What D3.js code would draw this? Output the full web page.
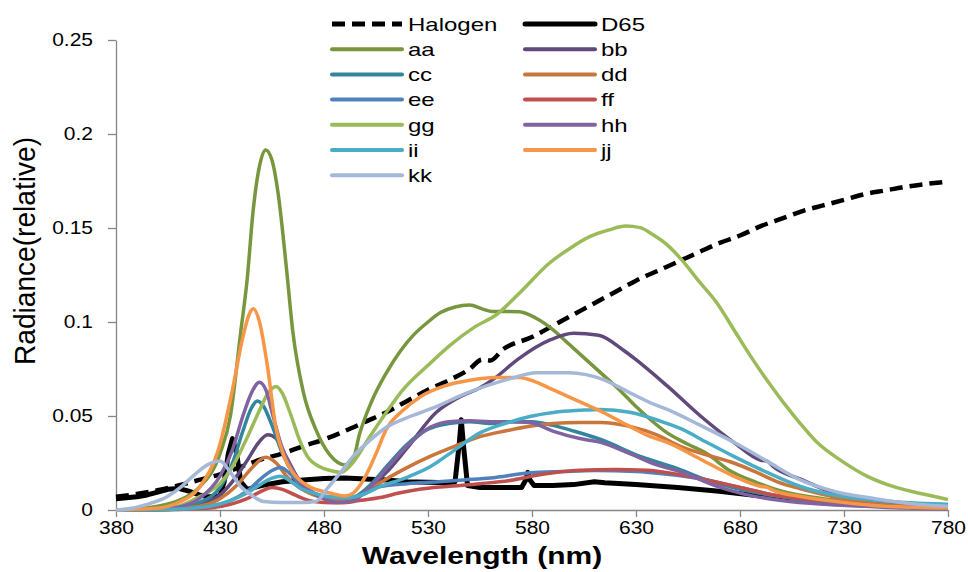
<!DOCTYPE html>
<html><head><meta charset="utf-8">
<script src="https://cdn.jsdelivr.net/npm/d3@7"></script>
<style>
html,body{margin:0;padding:0;background:#fff;}
text{font-family:"Liberation Sans",Arial,sans-serif;fill:#000;}
.sq{transform-box:fill-box;transform-origin:50% 50%;transform:scaleY(0.84);}
.sq2{transform-box:fill-box;transform-origin:50% 50%;transform:scaleY(0.8);}
</style></head>
<body>
<svg id="chart" width="968" height="572"></svg>
<script>
// ---------- data ----------
const wlTicks = [380,430,480,530,580,630,680,730,780];
const radTicks = [0,0.05,0.1,0.15,0.2,0.25];
const radTickLabels = ["0","0.05","0.1","0.15","0.2","0.25"];
const xTitle = "Wavelength (nm)";
const yTitle = "Radiance(relative)";
const seriesNames = ["Halogen","D65","aa","bb","cc","dd","ee","ff","gg","hh","ii","jj","kk"];

const halogenData = [[380,.0070],[390,.0085],[400,.0105],[410,.013],[420,.016],[430,.019],[440,.023],[450,.027],[460,.030],[470,.034],[480,.0375],[490,.042],[500,.047],[510,.052],[520,.058],[530,.064],[540,.069],[550,.075],[556,.080],[560,.0795],[566,.0854],[580,.092],[590,.098],[600,.104],[610,.110],[620,.116],[630,.122],[640,.127],[650,.132],[660,.137],[670,.142],[680,.146],[690,.151],[700,.155],[710,.159],[720,.162],[730,.165],[740,.168],[750,.170],[760,.172],[770,.1735],[780,.1747]];
const d65Data = [[380,.006],[385,.0065],[390,.007],[395,.008],[400,.0095],[405,.011],[410,.0115],[415,.010],[420,.008],[425,.007],[430,.0075],[432,.015],[434,.030],[436,.038],[438,.030],[440,.015],[443,.011],[450,.013],[460,.015],[470,.016],[480,.0167],[490,.017],[500,.0165],[510,.016],[520,.015],[530,.0148],[540,.0145],[543,.015],[545,.035],[546,.048],[547,.035],[549,.013],[555,.012],[565,.012],[575,.012],[577,.016],[578,.020],[579,.016],[581,.013],[590,.013],[600,.0135],[610,.015],[615,.0145],[630,.0135],[650,.012],[670,.010],[690,.0075],[710,.006],[730,.004],[750,.003],[770,.002],[780,.0015]];
const aaData = [[380,0],[390,.0005],[400,.002],[410,.005],[420,.012],[430,.03],[435,.05],[440,.095],[443,.122],[446,.160],[449,.183],[452,.1915],[455,.186],[458,.168],[462,.128],[465,.095],[470,.063],[476,.043],[483,.029],[490,.024],[494,.027],[497,.040],[503,.058],[510,.073],[517,.085],[523,.093],[530,.100],[536,.105],[543,.108],[550,.109],[556,.107],[561,.1056],[568,.1056],[574,.1055],[582,.102],[590,.096],[598,.088],[606,.080],[614,.072],[622,.064],[630,.055],[637,.048],[645,.041],[655,.035],[664,.030],[675,.021],[688,.0146],[700,.010],[720,.006],[740,.004],[760,.002],[780,.0015]];
const bbData = [[380,0],[400,.0005],[410,.001],[420,.003],[430,.008],[438,.018],[444,.028],[448,.035],[453,.040],[457,.038],[462,.028],[468,.016],[475,.009],[482,.006],[490,.005],[500,.010],[510,.020],[520,.033],[534,.052],[545,.060],[555,.065],[562,.070],[573,.080],[589,.0906],[600,.094],[612,.093],[624,.085],[630,.080],[645,.066],[661,.050],[677,.036],[690,.0265],[693,.026],[696,.023],[710,.016],[725,.009],[740,.006],[760,.003],[780,.0015]];
const ccData = [[380,0],[400,.0005],[410,.0015],[420,.004],[430,.012],[436,.025],[441,.042],[445,.054],[448,.058],[451,.055],[455,.045],[460,.030],[466,.018],[472,.011],[480,.007],[488,.005],[495,.007],[502,.013],[510,.023],[520,.035],[530,.043],[540,.046],[550,.047],[560,.046],[570,.047],[580,.047],[590,.045],[600,.042],[613,.0375],[632,.0285],[650,.022],[664,.016],[680,.011],[700,.007],[720,.004],[740,.0025],[760,.0015],[780,.001]];
const ddData = [[380,0],[400,0],[420,.002],[430,.006],[438,.013],[445,.022],[452,.028],[457,.025],[462,.018],[468,.012],[475,.008],[482,.006],[490,.0055],[498,.008],[507,.0145],[519,.022],[531,.0285],[543,.034],[555,.039],[567,.042],[579,.0445],[590,.046],[603,.0466],[613,.0466],[627,.0445],[640,.040],[651,.034],[665,.029],[677,.025],[688,.020],[698,.015],[710,.011],[725,.007],[740,.004],[760,.002],[780,.001]];
const eeData = [[380,0],[410,.0005],[425,.002],[435,.005],[443,.010],[450,.017],[455,.021],[459,.0226],[463,.020],[468,.014],[475,.009],[482,.007],[490,.0065],[498,.008],[507,.0125],[520,.014],[535,.015],[547,.016],[560,.017],[579,.0198],[595,.0205],[610,.021],[630,.0205],[645,.019],[664,.016],[680,.012],[696,.008],[710,.006],[730,.004],[750,.002],[780,.001]];
const ffData = [[380,0],[410,.0003],[425,.001],[435,.003],[443,.006],[450,.010],[455,.012],[460,.011],[466,.008],[473,.005],[480,.004],[488,.0038],[497,.005],[507,.0066],[516,.009],[526,.011],[539,.0125],[555,.014],[571,.016],[585,.019],[603,.0212],[620,.0215],[635,.0212],[650,.019],[664,.016],[680,.012],[696,.008],[710,.006],[730,.004],[750,.002],[780,.001]];
const ggData = [[380,0],[400,.0005],[410,.002],[420,.007],[430,.014],[436,.023],[442,.036],[449,.053],[453,.062],[457,.0657],[460,.062],[463.6,.052],[468,.038],[472,.0285],[478,.023],[483,.021],[488,.020],[493,.024],[502,.039],[510,.052],[518,.064],[530,.077],[541,.088],[552,.097],[563,.104],[575,.1165],[588,.131],[598,.139],[608,.1455],[617,.149],[625,.151],[632,.1502],[638,.1465],[645,.141],[652,.133],[660,.122],[669,.110],[677,.096],[685,.082],[693,.069],[701,.057],[709,.046],[717,.036],[729,.026],[741,.018],[755,.012],[768,.0085],[780,.0056]];
const hhData = [[380,0],[400,.0005],[410,.0015],[420,.006],[430,.018],[436,.032],[441,.050],[445,.062],[449,.068],[452,.064],[455.5,.050],[459,.036],[464,.023],[470,.013],[478,.007],[486,.004],[494,.005],[502,.012],[510,.022],[520,.034],[531,.044],[540,.047],[550,.0475],[560,.047],[570,.047],[579,.0465],[590,.042],[603,.038],[613,.036],[627,.030],[640,.024],[651,.0205],[668,.013],[680,.009],[700,.005],[720,.003],[740,.002],[760,.001],[780,.0005]];
const iiData = [[380,0],[410,.0005],[425,.002],[435,.005],[443,.009],[450,.014],[455,.017],[459,.018],[463,.016],[468,.012],[475,.009],[482,.007],[490,.0065],[498,.008],[507,.0125],[519,.017],[531,.023],[543,.032],[555,.041],[567,.046],[579,.0497],[591,.052],[603,.053],[613,.0535],[627,.052],[645,.046],[651,.0435],[664,.036],[677,.0285],[693,.020],[709,.0125],[725,.008],[741,.0056],[760,.004],[780,.003]];
const jjData = [[380,0],[400,.001],[410,.004],[420,.012],[430,.035],[436,.064],[441,.092],[444,.104],[446,.107],[449,.100],[452.6,.078],[457,.043],[461,.028],[465,.020],[472,.013],[483,.009],[490,.0075],[494,.009],[500,.018],[505,.030],[510,.043],[518,.053],[526,.060],[538,.066],[550,.069],[562,.0705],[574,.0705],[582,.068],[590,.064],[602,.058],[614,.052],[626,.045],[637,.039],[645,.036],[661,.027],[677,.018],[690,.0125],[693,.012],[696,.0105],[710,.007],[730,.004],[750,.002],[780,.001]];
const kkData = [[380,0],[385,.0005],[395,.003],[404.5,.007],[411,.012],[417,.018],[424,.024],[430,.026],[435,.020],[440,.0125],[445,.008],[451,.0045],[460,.004],[470,.004],[476,.0045],[482,.012],[488,.020],[494,.0285],[502,.037],[510,.044],[522,.050],[534,.055],[546,.061],[558,.066],[570,.070],[582,.073],[598,.073],[606,.072],[614,.0695],[626,.063],[637,.057],[645,.0535],[661,.045],[677,.036],[693,.026],[709,.016],[725,.010],[745,.006],[765,.003],[780,.002]];

const seriesValues = [halogenData,d65Data,aaData,bbData,ccData,ddData,eeData,ffData,ggData,hhData,iiData,jjData,kkData];

// ---------- styles ----------
const seriesColors = ["#000000","#000000","#77963D","#604A7B","#31859C","#C8763A","#4F81BD","#C0504D","#9BBB59","#8064A2","#4BACC6","#F79646","#A5B8D8"];
const seriesWidths = [4.5,5,3.5,3.5,3.5,3.5,3.5,3.5,3.5,3.5,3.5,3.5,3.5];
const seriesDash = ["13,7",null,null,null,null,null,null,null,null,null,null,null,null];

const svg = d3.select("#chart");
const x = d3.scaleLinear().domain([380,780]).range([116,948]);
const y = d3.scaleLinear().domain([0,0.25]).range([510,40]);
const axisColor = "#868686";

// x axis
const gx = svg.append("g").attr("transform",`translate(0,${y(0)})`)
  .call(d3.axisBottom(x).tickValues(wlTicks).tickFormat(d3.format("d")).tickSize(7).tickPadding(3).tickSizeOuter(0));
gx.select(".domain").attr("stroke",axisColor).attr("stroke-width",1.3);
gx.selectAll(".tick line").attr("stroke",axisColor).attr("stroke-width",1.3);
gx.selectAll(".tick text").attr("font-size",21).attr("font-family","Liberation Sans, Arial, sans-serif").attr("fill","#000").attr("class","sq");

// y axis
const gy = svg.append("g").attr("transform",`translate(${x(380)},0)`)
  .call(d3.axisLeft(y).tickValues(radTicks).tickFormat((d,i)=>radTickLabels[i]).tickSize(8).tickPadding(15).tickSizeOuter(0));
gy.select(".domain").attr("stroke",axisColor).attr("stroke-width",1.3);
gy.selectAll(".tick line").attr("stroke",axisColor).attr("stroke-width",1.3);
gy.selectAll(".tick text").attr("font-size",21).attr("font-family","Liberation Sans, Arial, sans-serif").attr("fill","#000").attr("class","sq");

// lines
const smooth = d3.line().x(d=>x(d[0])).y(d=>y(d[1])).curve(d3.curveMonotoneX);
const straight = d3.line().x(d=>x(d[0])).y(d=>y(d[1]));
seriesValues.forEach((vals,i)=>{
  svg.append("path").datum(vals)
    .attr("d", i===1 ? straight : smooth)
    .attr("fill","none")
    .attr("stroke",seriesColors[i])
    .attr("stroke-width",seriesWidths[i])
    .attr("stroke-linejoin","round")
    .attr("stroke-dasharray",seriesDash[i]);
});

// legend
const legX = [332,525], legY0 = 24, legDY = 25.2;
seriesNames.forEach((name,i)=>{
  const cx = legX[i%2], cy = legY0 + Math.floor(i/2)*legDY;
  svg.append("line").attr("x1",cx).attr("x2",cx+70).attr("y1",cy).attr("y2",cy)
    .attr("stroke",seriesColors[i]).attr("stroke-width",i<2?5:4)
    .attr("stroke-linecap",i===0?"butt":"round")
    .attr("stroke-dasharray",seriesDash[i]);
  svg.append("text").attr("x",cx+76).attr("y",cy).attr("dy","0.35em")
    .attr("font-size",24).attr("class","sq2").text(name);
});

// axis titles
svg.append("text").attr("x",482).attr("y",566).attr("text-anchor","middle")
  .attr("font-size",30).attr("font-weight","bold").attr("class","sq2").text(xTitle);
svg.append("text").attr("transform","translate(35,251) rotate(-90)").attr("text-anchor","middle")
  .attr("font-size",29).attr("textLength",228).attr("lengthAdjust","spacingAndGlyphs").text(yTitle);
</script>
</body></html>
